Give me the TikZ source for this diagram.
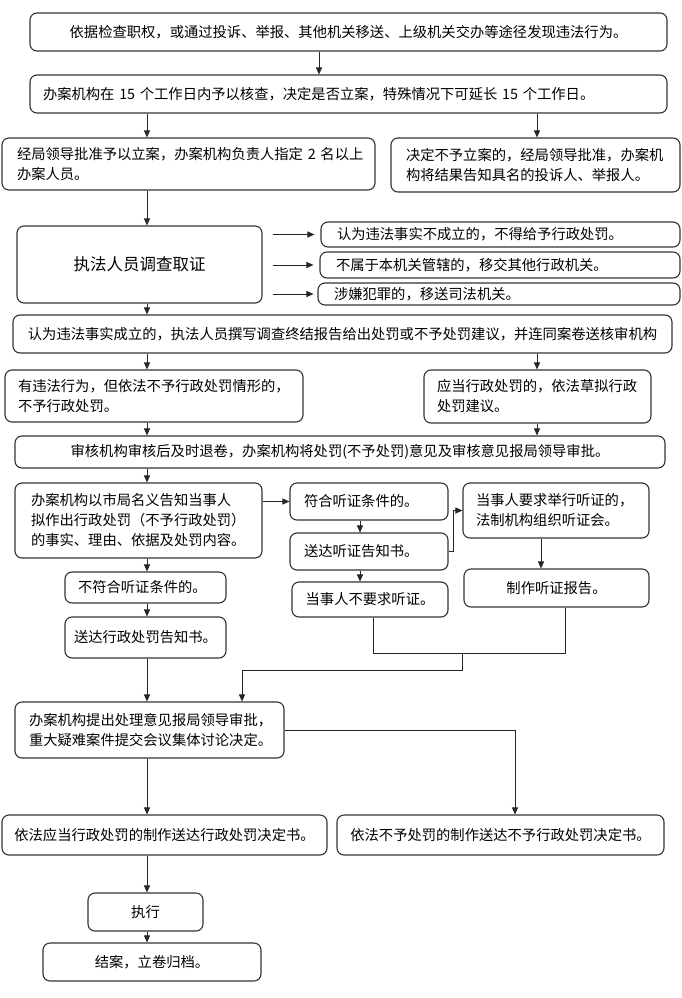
\documentclass[tikz,border=0pt]{standalone}
\usepackage{fontspec}
\setmainfont{Noto Sans CJK SC}
\usetikzlibrary{arrows.meta}
\begin{document}
\begin{tikzpicture}[x=1pt,y=-1pt,
  bx/.style={draw=black!80, line width=1.1pt, rounded corners=7pt, inner sep=0pt, font=\fontsize{14.3}{20}\selectfont, text=black},
  arr/.style={draw=black!85, line width=0.9pt, -{Triangle[length=7pt,width=6pt]}},
  ln/.style={draw=black!85, line width=0.9pt}]
\fill[white] (0,0) rectangle (681,998);
\useasboundingbox (0,0) rectangle (681,998);

\node[bx, minimum width=637pt, minimum height=38pt] (b1) at (348.5,32) {依据检查职权，或通过投诉、举报、其他机关移送、上级机关交办等途径发现违法行为。};
\node[bx, minimum height=38pt, text width=611pt, inner xsep=13pt, align=left] (b2) at (348.5,94) {办案机构在~15~个工作日内予以核查，决定是否立案，特殊情况下可延长~15~个工作日。};
\node[bx, minimum height=52pt, text width=343pt, inner xsep=15pt, align=left] (b3) at (188.5,164) {\mbox{经局领导批准予以立案，办案机构负责人指定~2~名以上}\\办案人员。};
\node[bx, minimum height=54pt, text width=259pt, inner xsep=15pt, align=left] (b4) at (535.5,165) {决定不予立案的，经局领导批准，办案机\\构将结果告知具名的投诉人、举报人。};
\node[bx, minimum width=245pt, minimum height=77pt, font=\fontsize{16.5}{20}\selectfont] (b5) at (139.5,264.5) {执法人员调查取证};
\node[bx, minimum height=25pt, text width=327pt, inner xsep=16pt, align=left] (s1) at (500.5,234.5) {认为违法事实不成立的，不得给予行政处罚。};
\node[bx, minimum height=26pt, text width=328pt, inner xsep=16pt, align=left] (s2) at (500,265) {不属于本机关管辖的，移交其他行政机关。};
\node[bx, minimum height=22pt, text width=330pt, inner xsep=16pt, align=left] (s3) at (499,294) {涉嫌犯罪的，移送司法机关。};
\node[bx, minimum width=659pt, minimum height=38pt] (b6) at (342.5,334) {认为违法事实成立的，执法人员撰写调查终结报告给出处罚或不予处罚建议，并连同案卷送核审机构};
\node[bx, minimum height=52pt, text width=272pt, inner xsep=13pt, align=left] (b7) at (154,396) {有违法行为，但依法不予行政处罚情形的，\\不予行政处罚。};
\node[bx, minimum height=53pt, text width=201pt, inner xsep=13pt, align=left] (b8) at (537.5,396.5) {应当行政处罚的，依法草拟行政\\处罚建议。};
\node[bx, minimum width=650pt, minimum height=32pt] (b9) at (340,452) {审核机构审核后及时退卷，办案机构将处罚(不予处罚)意见及审核意见报局领导审批。};
\node[bx, minimum height=75pt, text width=215pt, inner xsep=16pt, align=left] (b10) at (138.5,520.5) {办案机构以市局名义告知当事人\\拟作出行政处罚（不予行政处罚）\\的事实、理由、依据及处罚内容。};
\node[bx, minimum height=37pt, text width=130pt, inner xsep=14pt, align=left] (b11) at (369,501.5) {符合听证条件的。};
\node[bx, minimum height=37pt, text width=130pt, inner xsep=14pt, align=left] (b12) at (369,551.5) {送达听证告知书。};
\node[bx, minimum height=55pt, text width=160pt, inner xsep=13pt, align=left] (b13) at (556,510.5) {当事人要求举行听证的，\\法制机构组织听证会。};
\node[bx, minimum width=185pt, minimum height=38pt] (b14) at (556.5,588) {制作听证报告。};
\node[bx, minimum width=156pt, minimum height=35pt] (b15) at (370,599.5) {当事人不要求听证。};
\node[bx, minimum height=31pt, text width=135pt, inner xsep=13pt, align=left] (b16) at (145.5,587.5) {不符合听证条件的。};
\node[bx, minimum width=161pt, minimum height=41pt] (b17) at (145.5,637.5) {送达行政处罚告知书。};
\node[bx, minimum height=56pt, text width=241pt, inner xsep=14pt, align=left] (b18) at (149.5,730) {办案机构提出处理意见报局领导审批，\\重大疑难案件提交会议集体讨论决定。};
\node[bx, minimum width=325pt, minimum height=40pt] (b19) at (164.5,835) {依法应当行政处罚的制作送达行政处罚决定书。};
\node[bx, minimum width=327pt, minimum height=40pt] (b20) at (500.5,835) {依法不予处罚的制作送达不予行政处罚决定书。};
\node[bx, minimum width=115pt, minimum height=38pt] (b21) at (145.5,912) {执行};
\node[bx, minimum width=218pt, minimum height=38pt] (b22) at (152,962) {结案，立卷归档。};

\coordinate (cL) at (147,0);
\coordinate (cR) at (537,0);
\coordinate (cM) at (319,0);
\coordinate (cH) at (360,0);
\coordinate (cT) at (541,0);
\coordinate (k1) at (453,0);
\coordinate (k2) at (515,0);
\coordinate (p15) at (373,0);
\coordinate (p14) at (565,0);
\coordinate (j1) at (462,653);
\coordinate (j2) at (242,670);

\draw[arr] (b1.south -| cM) -- (b2.north -| cM);
\draw[arr] (b2.south -| cL) -- (b3.north -| cL);
\draw[arr] (b2.south -| cR) -- (b4.north -| cR);
\draw[arr] (b3.south -| cL) -- (b5.north -| cL);
\draw[arr, shorten <=10pt, shorten >=6pt] (b5.east |- s1.west) -- (s1.west);
\draw[arr, shorten <=10pt, shorten >=6pt] (b5.east |- s2.west) -- (s2.west);
\draw[arr, shorten <=10pt, shorten >=4pt] (b5.east |- s3.west) -- (s3.west);
\draw[arr] (b5.south -| cL) -- (b6.north -| cL);
\draw[arr] (b6.south -| cL) -- (b7.north -| cL);
\draw[arr] (b6.south -| cR) -- (b8.north -| cR);
\draw[arr] (b7.south -| cL) -- (b9.north -| cL);
\draw[arr] (b8.south -| cR) -- (b9.north -| cR);
\draw[arr] (b9.south -| cL) -- (b10.north -| cL);
\draw[arr] (b10.east |- b11.west) -- (b11.west);
\draw[arr] (b11.south -| cH) -- (b12.north -| cH);
\draw[arr] (b12.south -| cH) -- (b15.north -| cH);
\draw[arr] (b12.east) -- (b12.east -| k1) -- (b13.west -| k1) -- (b13.west);
\draw[arr] (b13.south -| cT) -- (b14.north -| cT);
\draw[arr] (b10.south -| cL) -- (b16.north -| cL);
\draw[arr] (b16.south -| cL) -- (b17.north -| cL);
\draw[ln] (b15.south -| p15) -- (p15 |- j1) -- (p14 |- j1) -- (b14.south -| p14);
\draw[arr] (j1) -- (j1 |- j2) -- (j2) -- (b18.north -| j2);
\draw[arr] (b17.south -| cL) -- (b18.north -| cL);
\draw[arr] (b18.east) -- (b18.east -| k2) -- (b20.north -| k2);
\draw[arr] (b18.south -| cL) -- (b19.north -| cL);
\draw[arr] (b19.south -| cL) -- (b21.north -| cL);
\draw[arr] (b21.south -| cL) -- (b22.north -| cL);
\end{tikzpicture}
\end{document}
